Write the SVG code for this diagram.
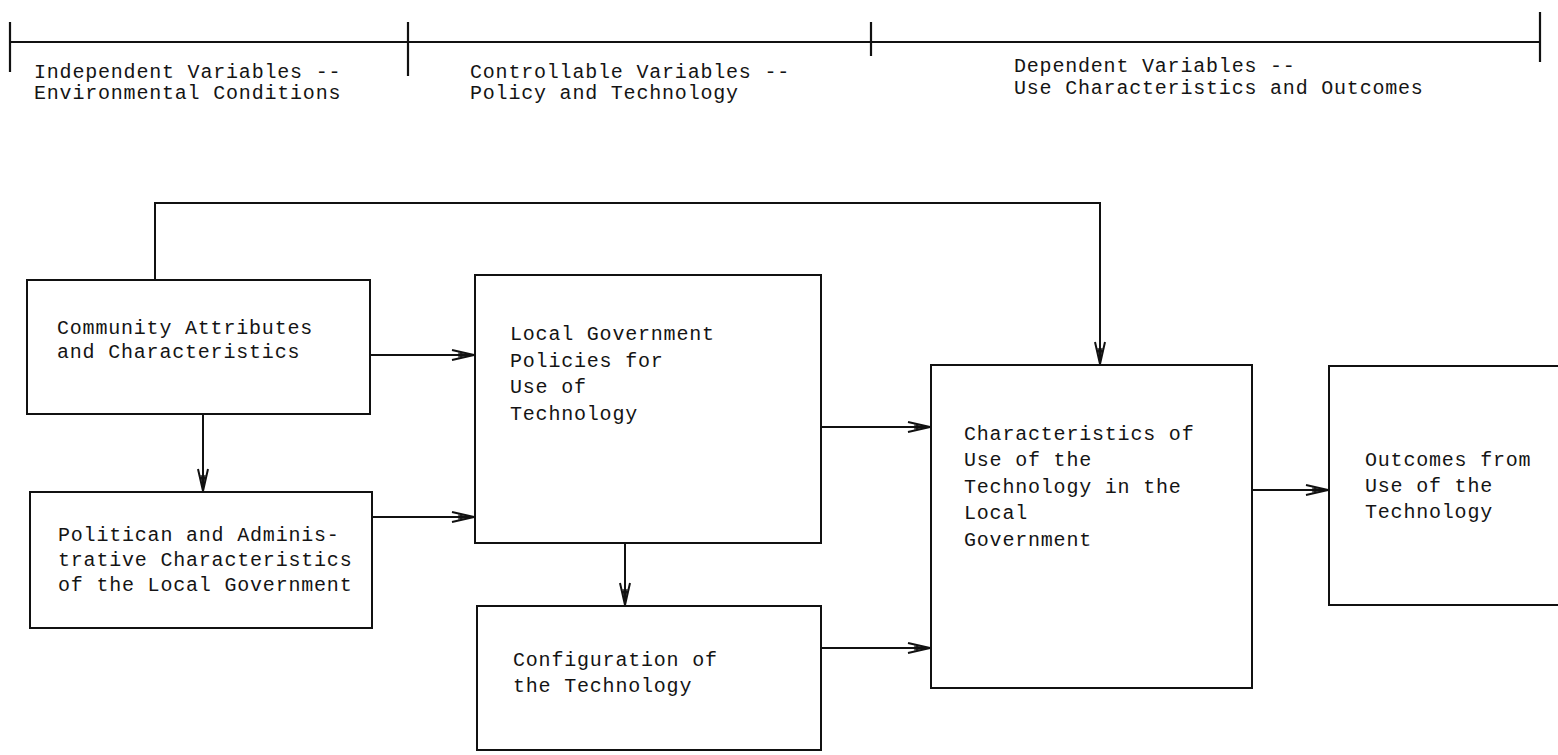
<svg xmlns="http://www.w3.org/2000/svg" width="1558" height="755" viewBox="0 0 1558 755">
<style>
.t{font-family:"Liberation Mono","DejaVu Sans Mono",monospace;font-size:20px;letter-spacing:0.8px;fill:#141414}
.box{fill:none;stroke:#111;stroke-width:2}
.ln{fill:none;stroke:#111;stroke-width:2.2}
.c{fill:none;stroke:#111;stroke-width:2}
</style>
<defs>
<marker id="ah" markerWidth="26" markerHeight="14" refX="24" refY="7" orient="auto" markerUnits="userSpaceOnUse">
<path d="M2,2 L24,7 L2,12 M4,7 L24,7" fill="none" stroke="#111" stroke-width="2"/>
<path d="M8,5 L20,7 L8,9" fill="none" stroke="#111" stroke-width="1.2"/>
</marker>
</defs>
<rect width="1558" height="755" fill="#fff"/>
<g id="timeline">
<path class="ln" d="M10,42 H1540"/>
<path class="ln" stroke-width="1.5" d="M10,22 V72 M408,22 V76 M871,22 V56 M1540,12 V62"/>
<text class="t" x="34" y="78">Independent Variables --</text>
<text class="t" x="34" y="99">Environmental Conditions</text>
<text class="t" x="470" y="78">Controllable Variables --</text>
<text class="t" x="470" y="99">Policy and Technology</text>
<text class="t" x="1014" y="72">Dependent Variables --</text>
<text class="t" x="1014" y="94">Use Characteristics and Outcomes</text>
</g>
<g id="community">
<rect class="box" x="27" y="280" width="343" height="134"/>
<text class="t" x="57" y="334">Community Attributes</text>
<text class="t" x="57" y="358">and Characteristics</text>
</g>
<g id="political">
<rect class="box" x="30" y="492" width="342" height="136"/>
<text class="t" x="58" y="541">Politican and Adminis-</text>
<text class="t" x="58" y="566">trative Characteristics</text>
<text class="t" x="58" y="591">of the Local Government</text>
</g>
<g id="policies">
<rect class="box" x="475" y="275" width="346" height="268"/>
<text class="t" x="510" y="340">Local Government</text>
<text class="t" x="510" y="367">Policies for</text>
<text class="t" x="510" y="393">Use of</text>
<text class="t" x="510" y="420">Technology</text>
</g>
<g id="configuration">
<rect class="box" x="477" y="606" width="344" height="144"/>
<text class="t" x="513" y="666">Configuration of</text>
<text class="t" x="513" y="692">the Technology</text>
</g>
<g id="characteristics">
<rect class="box" x="931" y="365" width="321" height="323"/>
<text class="t" x="964" y="440">Characteristics of</text>
<text class="t" x="964" y="466">Use of the</text>
<text class="t" x="964" y="493">Technology in the</text>
<text class="t" x="964" y="519">Local</text>
<text class="t" x="964" y="546">Government</text>
</g>
<g id="outcomes">
<path class="box" d="M1562,366 H1329 V605 H1562"/>
<text class="t" x="1365" y="466">Outcomes from</text>
<text class="t" x="1365" y="492">Use of the</text>
<text class="t" x="1365" y="518">Technology</text>
</g>
<g id="connectors">
<path class="c" d="M155,280 V203 H1100 V364" marker-end="url(#ah)"/>
<path class="c" d="M370,355 H474" marker-end="url(#ah)"/>
<path class="c" d="M372,517 H474" marker-end="url(#ah)"/>
<path class="c" d="M203,414 V491" marker-end="url(#ah)"/>
<path class="c" d="M625,543 V605" marker-end="url(#ah)"/>
<path class="c" d="M821,427 H930" marker-end="url(#ah)"/>
<path class="c" d="M821,648 H930" marker-end="url(#ah)"/>
<path class="c" d="M1252,490 H1328" marker-end="url(#ah)"/>
</g>
</svg>
